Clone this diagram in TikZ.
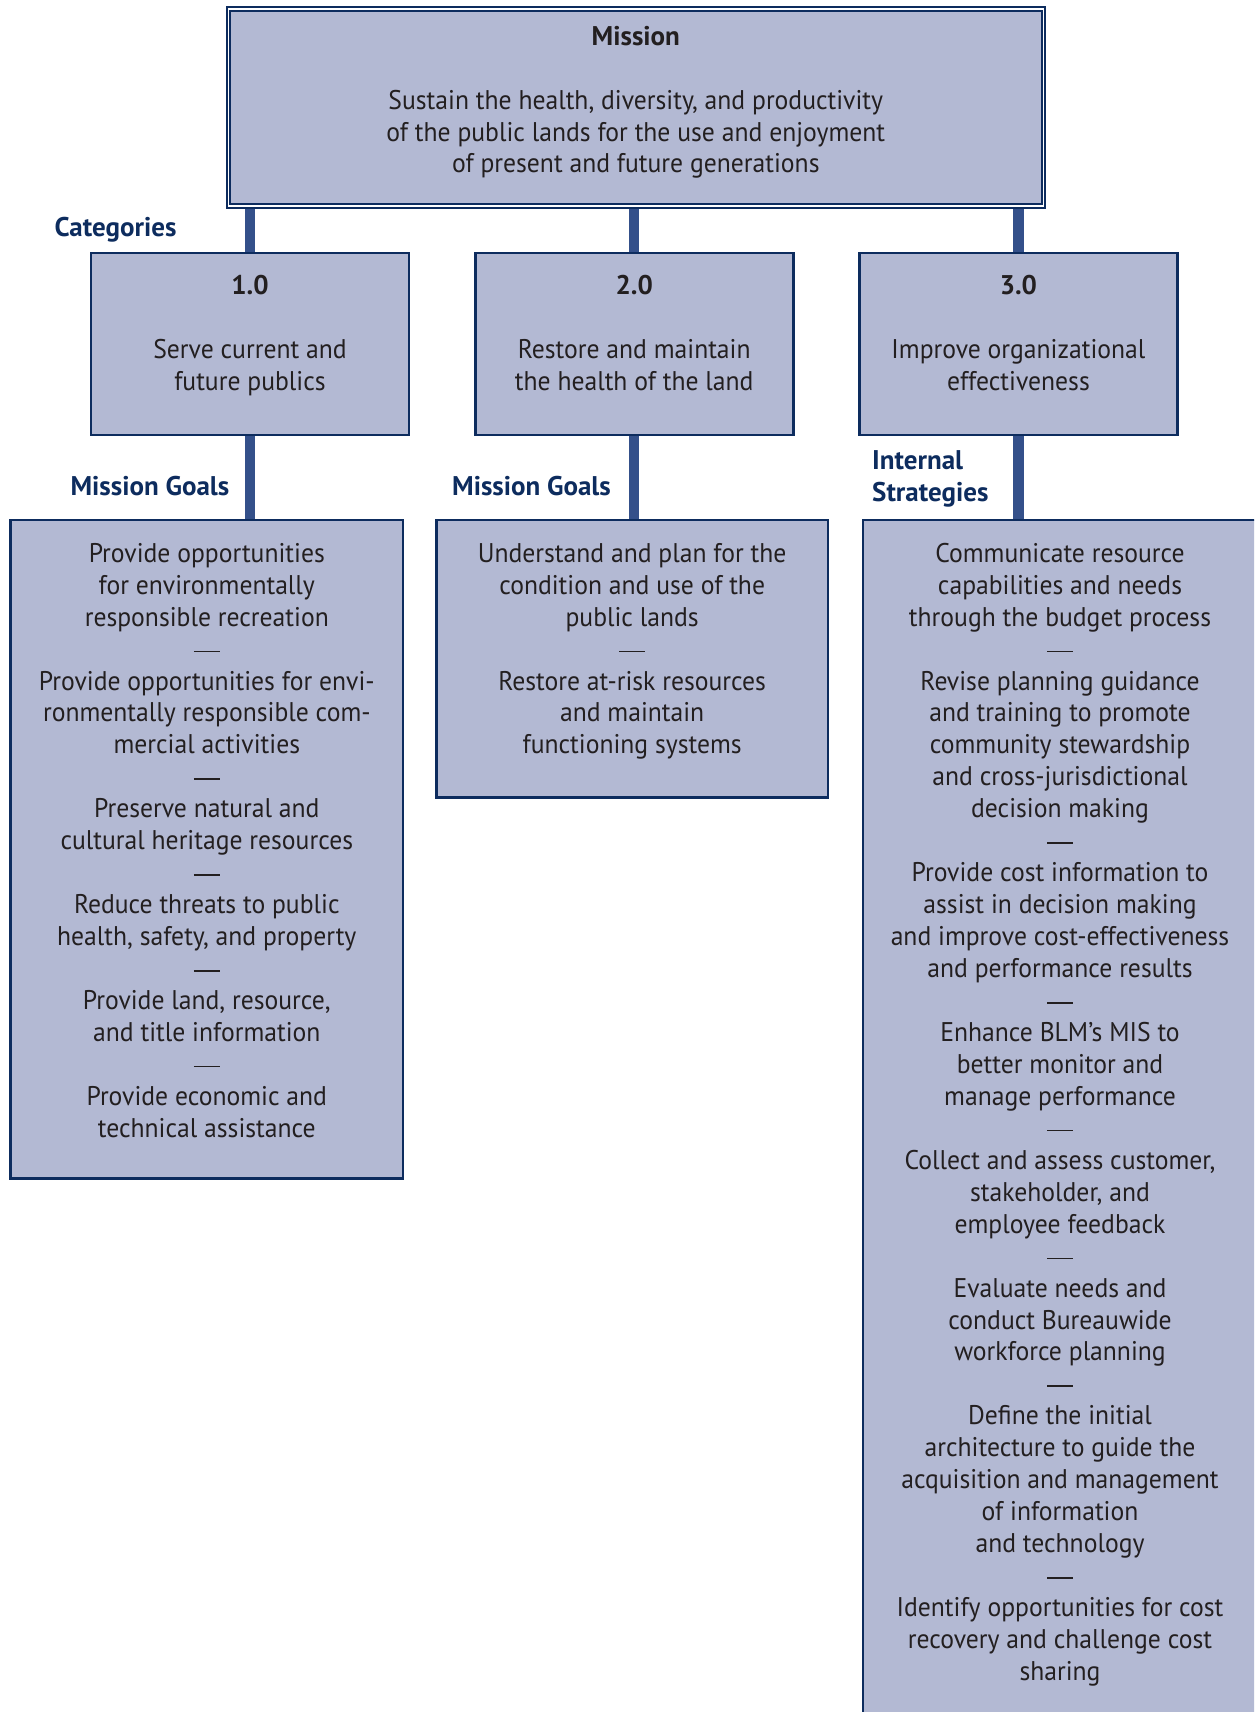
\documentclass[tikz,border=0pt]{standalone}
\usepackage{fontspec}
\setmainfont{PT Sans}
\newfontfamily\bodyfont{PT Sans}[FakeStretch=0.95]
\usetikzlibrary{backgrounds}
\definecolor{boxfill}{HTML}{B3B9D3}
\definecolor{navy}{HTML}{0D2C5E}
\definecolor{connc}{HTML}{34508A}
\definecolor{txt}{HTML}{231F20}
\tikzset{
  boxstyle/.style={draw=navy, fill=boxfill, line width=2.6pt, rectangle, inner sep=0pt, outer sep=0pt},
  bodytext/.style={align=center, inner sep=0pt, anchor=north, text=txt, font=\bodyfont\fontsize{27}{31.95}\selectfont},
  lbltext/.style={inner sep=0pt, text=navy, font=\bfseries\fontsize{27}{31.95}\selectfont},
  conn/.style={draw=connc, line width=10.4pt},
}
\newcommand{\fl}{\rule{0pt}{22pt}}
\newcommand{\sep}{\raisebox{6pt}{\rule{26pt}{1.5pt}}}
\newcommand{\ttl}[1]{{\rmfamily\bfseries #1}}
\begin{document}
\begin{tikzpicture}[x=1pt,y=-1pt]
\clip (0,0) rectangle (1254,1712);
% mission
\node[boxstyle, line width=2pt, double=white, double distance=1.6pt, minimum width=815pt, minimum height=197pt] (mission) at (635.8,107.6) {};
\node[bodytext] (missiontxt) at (635.8,23) {\fl\ttl{Mission}\\[31.95pt]Sustain the health, diversity, and productivity\\of the public lands for the use and enjoyment\\of present and future generations};
% categories
\node[boxstyle, minimum width=318pt, minimum height=182pt] (cat1) at (250,344) {};
\node[boxstyle, minimum width=318pt, minimum height=182pt] (cat2) at (634.2,344) {};
\node[boxstyle, minimum width=318pt, minimum height=182pt] (cat3) at (1018.4,344) {};
\node[bodytext] (cat1txt) at (250,272.6) {\fl\ttl{1.0}\\[31.95pt]Serve current and\\future publics};
\node[bodytext] (cat2txt) at (634.2,272.6) {\fl\ttl{2.0}\\[31.95pt]Restore and maintain\\the health of the land};
\node[bodytext] (cat3txt) at (1018.4,272.6) {\fl\ttl{3.0}\\[31.95pt]Improve organizational\\effectiveness};
% goal boxes
\node[boxstyle, minimum width=392.4pt, minimum height=658.7pt] (goal1) at (206.8,849.35) {};
\node[boxstyle, minimum width=391.7pt, minimum height=277.4pt] (goal2) at (632.15,658.7) {};
\node[boxstyle, minimum width=394pt, minimum height=1220pt] (goal3) at (1060,1130) {};
\node[bodytext] (goal1txt) at (206.8,540) {\fl Provide opportunities\\for environmentally\\responsible recreation\\\sep\\Provide opportunities for envi-\\ronmentally responsible com-\\mercial activities\\\sep\\Preserve natural and\\cultural heritage resources\\\sep\\Reduce threats to public\\health, safety, and property\\\sep\\Provide land, resource,\\and title information\\\sep\\Provide economic and\\technical assistance};
\node[bodytext] (goal2txt) at (632.15,540) {\fl Understand and plan for the\\condition and use of the\\public lands\\\sep\\Restore at-risk resources\\and maintain\\functioning systems};
\node[bodytext] (goal3txt) at (1060,540) {\fl Communicate resource\\capabilities and needs\\through the budget process\\\sep\\Revise planning guidance\\and training to promote\\community stewardship\\and cross-jurisdictional\\decision making\\\sep\\Provide cost information to\\assist in decision making\\and improve cost-effectiveness\\and performance results\\\sep\\Enhance BLM’s MIS to\\better monitor and\\manage performance\\\sep\\Collect and assess customer,\\stakeholder, and\\employee feedback\\\sep\\Evaluate needs and\\conduct Bureauwide\\workforce planning\\\sep\\Define the initial\\architecture to guide the\\acquisition and management\\of information\\and technology\\\sep\\Identify opportunities for cost\\recovery and challenge cost\\sharing};
% labels
\node[lbltext, anchor=base west] (lblcat) at (54.4,236.4) {Categories};
\node[lbltext, anchor=base west] (lblmg1) at (70.4,495.7) {Mission Goals};
\node[lbltext, anchor=base west] (lblmg2) at (452,495.7) {Mission Goals};
\node[lbltext, anchor=north west, align=left] (lblis) at (872,447) {\fl Internal\\Strategies};
% connectors
\begin{pgfonlayer}{background}
\draw[conn] (cat1.north |- mission.south) -- (cat1.north);
\draw[conn] (cat2.north |- mission.south) -- (cat2.north);
\draw[conn] (cat3.north |- mission.south) -- (cat3.north);
\draw[conn] (cat1.south) -- (cat1.south |- goal1.north);
\draw[conn] (cat2.south) -- (cat2.south |- goal2.north);
\draw[conn] (cat3.south) -- (cat3.south |- goal3.north);
\end{pgfonlayer}
\end{tikzpicture}
\end{document}
